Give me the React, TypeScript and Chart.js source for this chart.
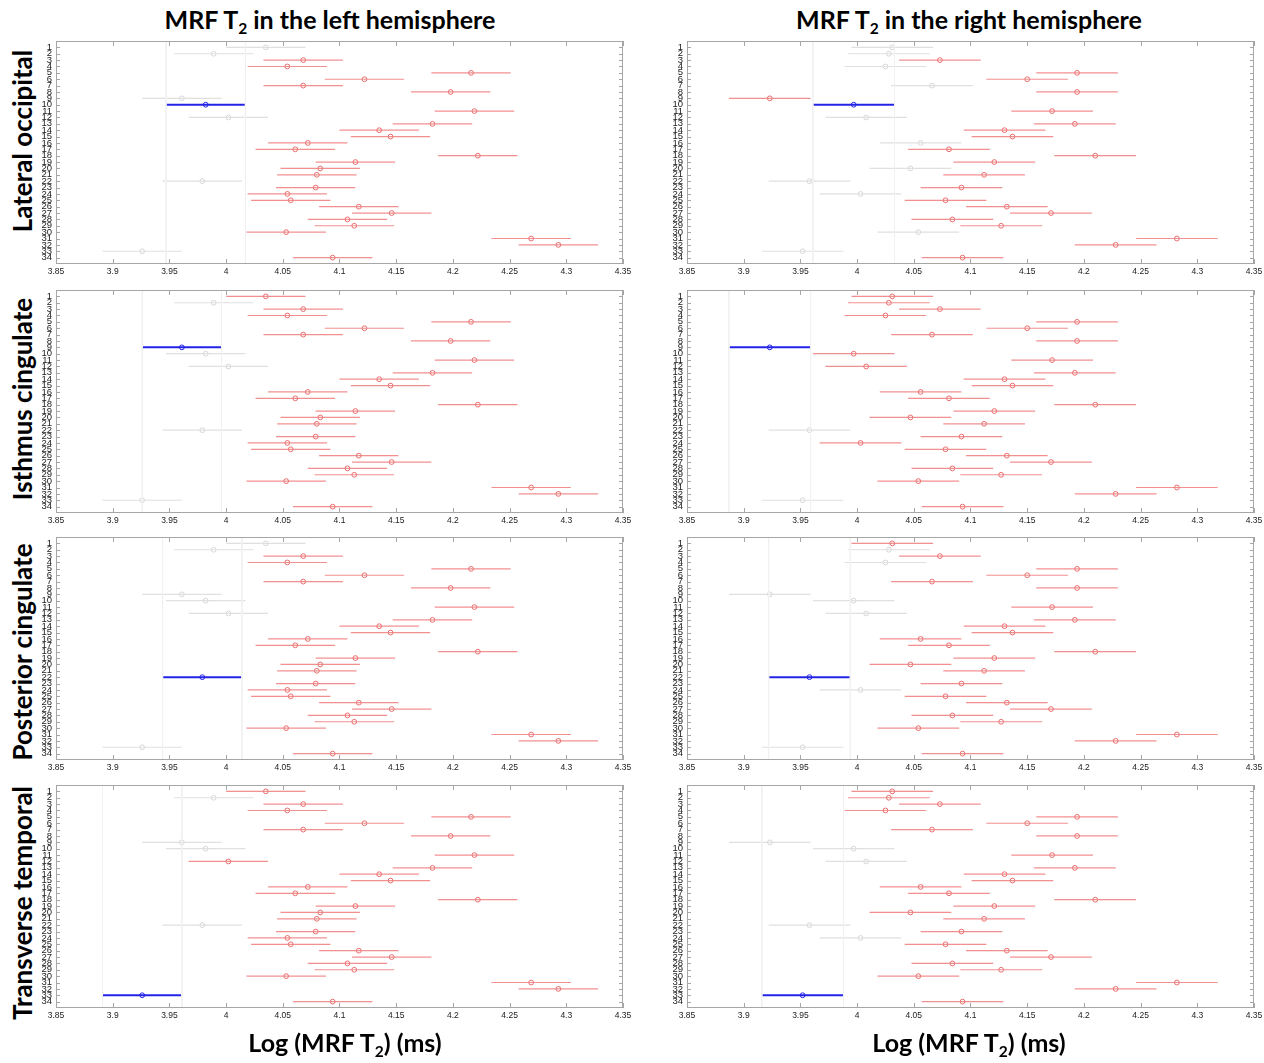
import React, { useEffect, useRef } from "react";
import { Chart, registerables } from "chart.js";

Chart.register(...registerables);

// ---------- data ----------
const groupLabels = ["1","2","3","4","5","6","7","8","9","10","11","12","13","14","15","16","17","18","19","20","21","22","23","24","25","26","27","28","29","30","31","32","33","34"];

// group means of log(MRF T2), left hemisphere
const leftMeans = [4.035, 3.989, 4.068, 4.054, 4.216, 4.122, 4.068, 4.198, 3.961, 3.982, 4.219, 4.002, 4.182, 4.135, 4.145, 4.072, 4.061, 4.222, 4.114, 4.083, 4.080, 3.979, 4.079, 4.054, 4.057, 4.117, 4.146, 4.107, 4.113, 4.053, 4.269, 4.293, 3.926, 4.094];
// group means of log(MRF T2), right hemisphere
const rightMeans = [4.031, 4.028, 4.073, 4.025, 4.194, 4.150, 4.066, 4.194, 3.923, 3.997, 4.172, 4.008, 4.192, 4.130, 4.137, 4.056, 4.081, 4.210, 4.121, 4.047, 4.112, 3.958, 4.092, 4.003, 4.078, 4.132, 4.171, 4.084, 4.127, 4.054, 4.282, 4.228, 3.952, 4.093];

// comparison interval half-widths
const leftHalfWidth = 0.035;
const rightHalfWidth = 0.036;

const regionNames = ["Lateral occipital", "Isthmus cingulate", "Posterior cingulate", "Transverse temporal"];
// selected group (1-based) per region
const selectedGroup = [10, 9, 22, 33];

// groups not significantly different from the selected one (drawn gray)
const leftGrayGroups = [
  [1, 2, 9, 12, 22, 33],
  [2, 10, 12, 22, 33],
  [1, 2, 9, 10, 12, 33],
  [2, 9, 10, 22],
];
const rightGrayGroups = [
  [1, 2, 4, 7, 12, 16, 20, 22, 24, 30, 33],
  [22, 33],
  [2, 4, 9, 10, 12, 24, 33],
  [9, 10, 12, 22, 24],
];

const xTickValues = [3.85, 3.9, 3.95, 4, 4.05, 4.1, 4.15, 4.2, 4.25, 4.3, 4.35];
const yTickValues = [1,2,3,4,5,6,7,8,9,10,11,12,13,14,15,16,17,18,19,20,21,22,23,24,25,26,27,28,29,30,31,32,33,34];
const xMin = 3.85;
const xMax = 4.35;
const yMin = 0;
const yMax = 35;

// ---------- styles ----------
const RED_LINE = "rgba(240,125,125,0.85)";
const RED_MARK = "rgba(232,95,95,0.9)";
const GRAY_LINE = "#e0e0e0";
const GRAY_MARK = "#d6d6d6";
const BLUE = "#2323e6";
const REF_LINE = "#f1f1f1";
const FRAME = "#a6a6a6";

const LABEL_FONT = "Lato, 'Open Sans', sans-serif";

const framePlugin = {
  id: "matlabFrame",
  afterDraw(chart: any) {
    const { ctx, chartArea: a, scales } = chart;
    ctx.save();
    ctx.strokeStyle = FRAME;
    ctx.lineWidth = 1;
    ctx.strokeRect(Math.round(a.left) + 0.5, Math.round(a.top) + 0.5, Math.round(a.right - a.left) - 1, Math.round(a.bottom - a.top) - 1);
    ctx.beginPath();
    for (const v of xTickValues) {
      const x = Math.round(scales.x.getPixelForValue(v)) + 0.5;
      ctx.moveTo(x, a.top);
      ctx.lineTo(x, a.top + 5);
      ctx.moveTo(x, a.bottom);
      ctx.lineTo(x, a.bottom - 5);
    }
    for (const v of yTickValues) {
      const y = Math.round(scales.y.getPixelForValue(v)) + 0.5;
      ctx.moveTo(a.left, y);
      ctx.lineTo(a.left + 4, y);
      ctx.moveTo(a.right, y);
      ctx.lineTo(a.right - 4, y);
    }
    ctx.stroke();
    ctx.restore();
  },
};

type PanelProps = {
  means: number[];
  halfWidth: number;
  selected: number;
  gray: number[];
  width: number;
  height: number;
};

const Y_AXIS_W = 40;
const PAD_TOP = 5;
const PAD_RIGHT = 14;
const X_AXIS_H = 20;

function Panel({ means, halfWidth, selected, gray, width, height }: PanelProps) {
  const ref = useRef<HTMLCanvasElement | null>(null);
  useEffect(() => {
    if (!ref.current) return;
    const selMean = means[selected - 1];
    const datasets: any[] = [];
    // reference lines at the bounds of the selected interval
    [selMean - halfWidth, selMean + halfWidth].forEach((xv) => {
      datasets.push({
        data: [{ x: xv, y: yMin }, { x: xv, y: yMax }],
        showLine: true,
        borderColor: REF_LINE,
        borderWidth: 1,
        pointRadius: 0,
      });
    });
    const colorOf = (g: number) => (g === selected ? BLUE : gray.includes(g) ? GRAY_LINE : RED_LINE);
    const markOf = (g: number) => (g === selected ? BLUE : gray.includes(g) ? GRAY_MARK : RED_MARK);
    means.forEach((m, i) => {
      const g = i + 1;
      datasets.push({
        data: [{ x: m - halfWidth, y: g }, { x: m + halfWidth, y: g }],
        showLine: true,
        borderColor: colorOf(g),
        borderWidth: g === selected ? 2 : 1.2,
        pointRadius: 0,
      });
    });
    datasets.push({
      data: means.map((m, i) => ({ x: m, y: i + 1 })),
      showLine: false,
      pointRadius: 2.4,
      pointBorderWidth: 1,
      pointBackgroundColor: "rgba(0,0,0,0)",
      pointBorderColor: means.map((_, i) => markOf(i + 1)),
    });

    const chart = new Chart(ref.current, {
      type: "scatter",
      data: { datasets },
      plugins: [framePlugin],
      options: {
        animation: false,
        responsive: false,
        events: [],
        layout: { padding: { left: 0, top: PAD_TOP, right: PAD_RIGHT, bottom: 0 } },
        plugins: { legend: { display: false }, tooltip: { enabled: false } },
        scales: {
          x: {
            type: "linear",
            min: xMin,
            max: xMax,
            afterBuildTicks: (s: any) => {
              s.ticks = xTickValues.map((v) => ({ value: v }));
            },
            afterFit: (s: any) => {
              s.height = X_AXIS_H;
              s.paddingLeft = 0;
              s.paddingRight = 0;
            },
            grid: { display: false, drawTicks: false },
            border: { display: false },
            ticks: {
              autoSkip: false,
              maxRotation: 0,
              padding: 3,
              color: "#222",
              font: { family: "'Liberation Sans', Arial, sans-serif", size: 8.5 },
              callback: (v: any) => String(v),
            },
          },
          y: {
            type: "linear",
            min: yMin,
            max: yMax,
            reverse: true,
            afterBuildTicks: (s: any) => {
              s.ticks = yTickValues.map((v) => ({ value: v }));
            },
            afterFit: (s: any) => {
              s.width = Y_AXIS_W;
              s.paddingTop = 0;
              s.paddingBottom = 0;
            },
            grid: { display: false, drawTicks: false },
            border: { display: false },
            ticks: {
              autoSkip: false,
              padding: 4,
              color: "#222",
              font: { family: "'Liberation Sans', Arial, sans-serif", size: 9.5 },
              callback: (v: any) => groupLabels[Number(v) - 1] ?? "",
            },
          },
        },
      },
    } as any);
    return () => chart.destroy();
  }, [means, halfWidth, selected, gray, width, height]);
  return <canvas ref={ref} width={width} height={height} style={{ display: "block", width, height }} />;
}

// panel geometry (plot area)
const colPlotLeft = [56, 687];
const PLOT_W = 567;
const rowPlotTop = [41, 290, 537, 785];
const PLOT_H = 223;
const rowLabelCenterY = [141, 399, 652, 903];

const boldText: React.CSSProperties = {
  position: "absolute",
  fontFamily: LABEL_FONT,
  fontWeight: 700,
  color: "#000",
  whiteSpace: "nowrap",
  lineHeight: 1,
};

function T2() {
  return (
    <span>
      T<sub style={{ fontSize: "0.62em", verticalAlign: "-0.3em" }}>2</sub>
    </span>
  );
}

export default function App() {
  return (
    <div style={{ position: "absolute", left: 0, top: 0, width: 1264, height: 1063, background: "#fff", overflow: "hidden" }}>
      <div style={{ ...boldText, fontSize: 25, left: 330, top: 22, transform: "translate(-50%,-50%)" }}>
        MRF <T2 /> in the left hemisphere
      </div>
      <div style={{ ...boldText, fontSize: 25, left: 969, top: 22, transform: "translate(-50%,-50%)" }}>
        MRF <T2 /> in the right hemisphere
      </div>
      {regionNames.map((name, r) => (
        <div
          key={name}
          style={{ ...boldText, fontSize: 26, left: 22, top: rowLabelCenterY[r], transform: "translate(-50%,-50%) rotate(-90deg)" }}
        >
          {name}
        </div>
      ))}
      {regionNames.map((name, r) =>
        [0, 1].map((c) => (
          <div
            key={name + c}
            style={{ position: "absolute", left: colPlotLeft[c] - Y_AXIS_W, top: rowPlotTop[r] - PAD_TOP }}
          >
            <Panel
              means={c === 0 ? leftMeans : rightMeans}
              halfWidth={c === 0 ? leftHalfWidth : rightHalfWidth}
              selected={selectedGroup[r]}
              gray={c === 0 ? leftGrayGroups[r] : rightGrayGroups[r]}
              width={Y_AXIS_W + PLOT_W + PAD_RIGHT}
              height={PAD_TOP + PLOT_H + X_AXIS_H}
            />
          </div>
        ))
      )}
      <div style={{ ...boldText, fontSize: 25, left: 345, top: 1045, transform: "translate(-50%,-50%)" }}>
        Log (MRF <T2 />) (ms)
      </div>
      <div style={{ ...boldText, fontSize: 25, left: 969, top: 1045, transform: "translate(-50%,-50%)" }}>
        Log (MRF <T2 />) (ms)
      </div>
    </div>
  );
}
